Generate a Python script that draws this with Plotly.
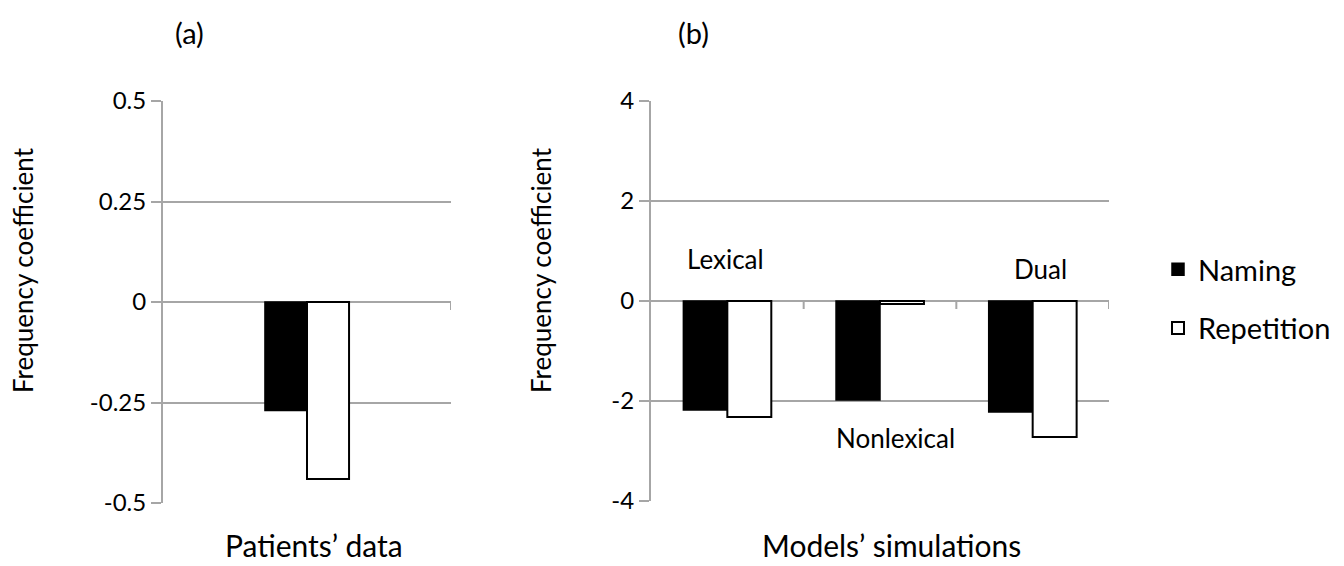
import plotly.graph_objects as go

# Data
series = ["Naming", "Repetition"]
patients_cat = ["Patients"]
patients_naming = [-0.27]
patients_repetition = [-0.44]

model_cats = ["Lexical", "Nonlexical", "Dual"]
model_naming = [-2.18, -1.98, -2.22]
model_repetition = [-2.32, -0.06, -2.72]

a_ticks = [0.5, 0.25, 0, -0.25, -0.5]
a_ticklabels = ["0.5", "0.25", "0", "-0.25", "-0.5"]
b_ticks = [4, 2, 0, -2, -4]
b_ticklabels = ["4", "2", "0", "-2", "-4"]

FONT = "Lato"
GRID = "#a6a6a6"

fig = go.Figure()

wa = 0.146
wb = 0.288

fig.add_trace(go.Bar(x=patients_cat, y=patients_naming, name="Naming",
                     marker=dict(color="black", line=dict(color="black", width=1.5)),
                     width=wa, offset=-wa, xaxis="x", yaxis="y", showlegend=False))
fig.add_trace(go.Bar(x=patients_cat, y=patients_repetition, name="Repetition",
                     marker=dict(color="white", line=dict(color="black", width=2)),
                     width=wa, offset=0, xaxis="x", yaxis="y", showlegend=False))
fig.add_trace(go.Bar(x=model_cats, y=model_naming, name="Naming",
                     marker=dict(color="black", line=dict(color="black", width=1.5)),
                     width=wb, offset=-wb, xaxis="x2", yaxis="y2", legendgroup="n"))
fig.add_trace(go.Bar(x=model_cats, y=model_repetition, name="Repetition",
                     marker=dict(color="white", line=dict(color="black", width=2)),
                     width=wb, offset=0, xaxis="x2", yaxis="y2", legendgroup="r"))

W, H = 1344, 566
ax_a = (163 / W, 451 / W)
ax_b = (651 / W, 1109 / W)
dom_y_a = (1 - 503 / H, 1 - 101 / H)
dom_y_b = (1 - 501 / H, 1 - 101 / H)

common_x = dict(showticklabels=False, showgrid=False, zeroline=False, showline=False, ticks="",
                type="category", automargin=False)
common_y = dict(showgrid=True, gridcolor=GRID, gridwidth=2, zeroline=True, zerolinecolor=GRID,
                zerolinewidth=2, showline=True, linecolor=GRID, linewidth=2, ticks="outside",
                tickcolor=GRID, ticklen=10, tickwidth=2, automargin=False,
                tickfont=dict(family=FONT, size=24, color="black"))

fig.update_layout(
    template="none",
    width=W, height=H,
    margin=dict(l=0, r=0, t=0, b=0, pad=0),
    plot_bgcolor="white", paper_bgcolor="white",
    barmode="overlay",
    xaxis=dict(domain=ax_a, range=[-0.5, 0.5], anchor="y", **common_x),
    yaxis=dict(domain=dom_y_a, range=[-0.5, 0.5], anchor="x", tickvals=a_ticks,
               ticktext=a_ticklabels, **common_y),
    xaxis2=dict(domain=ax_b, range=[-0.5, 2.5], anchor="y2", **common_x),
    yaxis2=dict(domain=dom_y_b, range=[-4, 4], anchor="x2", tickvals=b_ticks,
                ticktext=b_ticklabels, **common_y),
    legend=dict(x=1158 / W, y=1 - 299 / H, xanchor="left", yanchor="middle",
                font=dict(family=FONT, size=29, color="black"),
                tracegroupgap=18, itemwidth=30, bgcolor="rgba(0,0,0,0)"),
    showlegend=True,
)

# category boundary tick marks on the zero line
for xv in [0.5]:
    fig.add_shape(type="line", xref="x", yref="y", x0=xv, x1=xv, y0=0, y1=-8,
                  ysizemode="pixel", yanchor=0, line=dict(color=GRID, width=2))
for xv in [0.5, 1.5, 2.5]:
    fig.add_shape(type="line", xref="x2", yref="y2", x0=xv, x1=xv, y0=0, y1=-8,
                  ysizemode="pixel", yanchor=0, line=dict(color=GRID, width=2))


def label(text, x, y, size, angle=0):
    return dict(text=text, x=x / W, y=1 - y / H, xref="paper", yref="paper",
                xanchor="center", yanchor="middle", textangle=angle,
                showarrow=False, font=dict(family=FONT, size=size, color="black"))


ann = [
    label("(a)", 189, 33, 29),
    label("(b)", 693, 33, 29),
    label("Frequency coefficient", 23, 270, 26, -90),
    label("Frequency coefficient", 541, 270, 26, -90),
    label("Patients’ data", 314, 545, 30),
    label("Models’ simulations", 891, 545, 30),
    label("Lexical", 725, 259, 26),
    label("Nonlexical", 895, 438, 26),
    label("Dual", 1040, 269, 26),
]
fig.update_layout(annotations=ann)

fig.write_html("out.html", config={"displayModeBar": False},
               post_script="document.body.style.margin='0';document.body.style.overflow='hidden';")
